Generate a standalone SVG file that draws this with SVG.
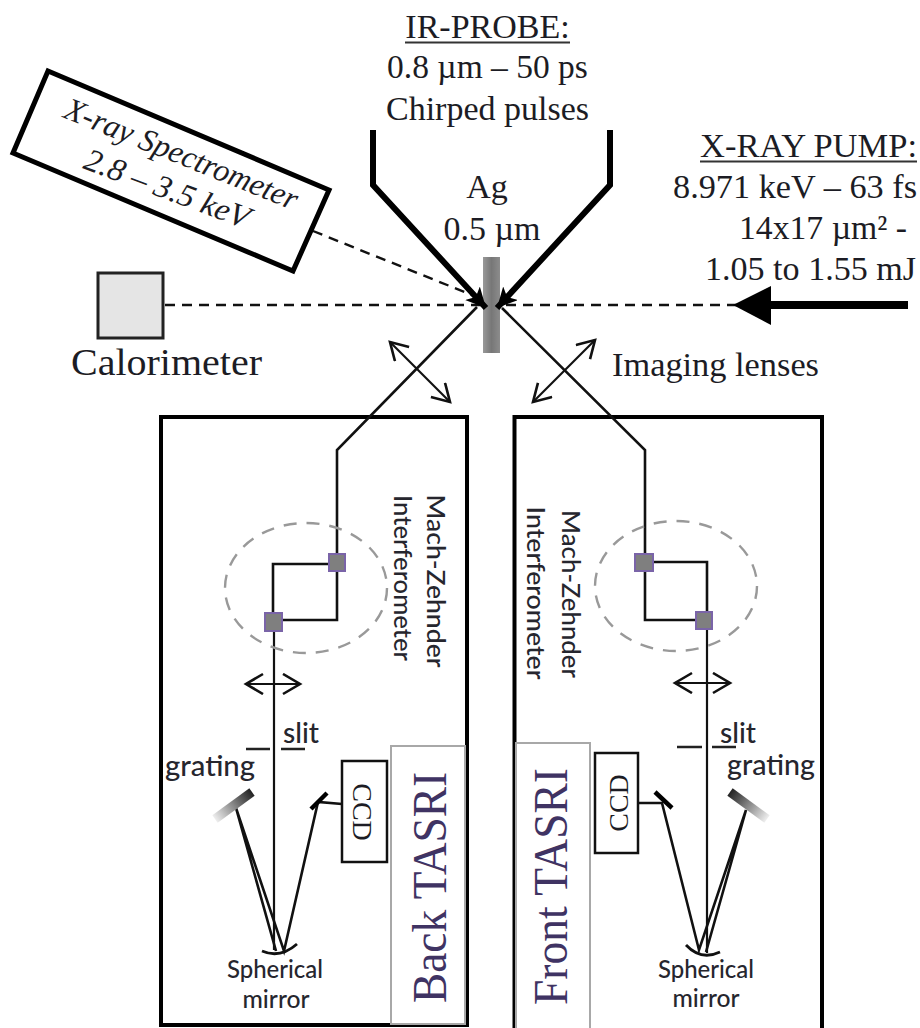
<svg xmlns="http://www.w3.org/2000/svg" width="920" height="1028" viewBox="0 0 920 1028">
<style>
.t{font-family:"Liberation Serif","Times New Roman",serif;fill:#1c1c24}
.s{font-family:Lato,"Open Sans",sans-serif;fill:#26262e;font-weight:500}
.m{text-anchor:middle}
.box{fill:none;stroke:#000;stroke-width:4}
.panel{fill:#fff;stroke:#a8a8a8;stroke-width:2}
.tasri{font-family:"Liberation Serif",serif;font-size:49px;fill:#3f3363}
.ln{fill:none;stroke:#111;stroke-width:2.6;stroke-linejoin:miter}
.thin{fill:none;stroke:#111;stroke-width:2.2}
.dash{fill:none;stroke:#111;stroke-width:2.4;stroke-dasharray:10 7}
.beam{fill:none;stroke:#000;stroke-width:6;stroke-linejoin:miter}
.ell{fill:none;stroke:#999;stroke-width:2.4;stroke-dasharray:13 10}
.bs{fill:#7f7f7f;stroke:#7a64a8;stroke-width:2}
.sl{fill:none;stroke:#222;stroke-width:2.5}
</style>
<defs>
<marker id="head" markerUnits="userSpaceOnUse" markerWidth="24" markerHeight="24" refX="20" refY="10" orient="auto"><path d="M0 0L20 10L0 20L5 10Z" fill="#000"/></marker>
<marker id="open" markerUnits="userSpaceOnUse" markerWidth="24" markerHeight="24" refX="18" refY="11" orient="auto-start-reverse"><path d="M1 1L18 11L1 21" fill="none" stroke="#111" stroke-width="2.6"/></marker>
<linearGradient id="gr1" gradientUnits="userSpaceOnUse" x1="252" y1="792" x2="215" y2="819"><stop offset="0" stop-color="#222"/><stop offset="1" stop-color="#eee"/></linearGradient>
<linearGradient id="gr2" gradientUnits="userSpaceOnUse" x1="730" y1="792" x2="767" y2="819"><stop offset="0" stop-color="#222"/><stop offset="1" stop-color="#eee"/></linearGradient>
<linearGradient id="ag" x1="0" x2="1" y1="0" y2="0"><stop offset="0" stop-color="#999"/><stop offset=".5" stop-color="#777"/><stop offset="1" stop-color="#8c8c8c"/></linearGradient>
</defs>

<g id="back-tasri">
<rect class="box" x="161" y="417" width="306" height="608"/>
<rect class="panel" x="391" y="746" width="74" height="278"/>
<text class="tasri" transform="translate(446,1003) rotate(-90)" textLength="231" lengthAdjust="spacingAndGlyphs">Back TASRI</text>
</g>
<g id="front-tasri">
<path class="box" d="M514.500 1030V417H822V1030"/>
<rect class="panel" x="516" y="743" width="74" height="287"/>
<text class="tasri" transform="translate(567,1005) rotate(-90)" textLength="237" lengthAdjust="spacingAndGlyphs">Front TASRI</text>
</g>
<g id="ag-target">
<rect x="483" y="257" width="17" height="96" fill="url(#ag)"/>
<text class="t m" x="487" y="198" font-size="34">Ag</text>
<text class="t m" x="492" y="240" font-size="34">0.5 µm</text>
</g>

<g id="connectors">
<path class="dash" d="M313 231L482 299"/>
<path class="dash" d="M165 305H482"/>
<path class="dash" d="M506 305H740"/>
<path class="beam" d="M373 130V185L486 308" marker-end="url(#head)"/>
<path class="beam" d="M610 130V185L497 308" marker-end="url(#head)"/>
<path class="ln" d="M477 307L337 450V620H273V564H337"/>
<path class="ln" d="M502 308L645 450V620H707V562H645"/>
<path class="thin" d="M274 622V950"/>
<path class="thin" d="M707 622V953"/>
<path class="thin" d="M390 342L450 402" marker-start="url(#open)" marker-end="url(#open)"/>
<path class="thin" d="M595 340L533 402" marker-start="url(#open)" marker-end="url(#open)"/>
<path class="thin" d="M246 684H300" marker-start="url(#open)" marker-end="url(#open)"/>
<path class="thin" d="M675 683H730" marker-start="url(#open)" marker-end="url(#open)"/>
<path class="ln" d="M236 808L276 951M236 808L284 951L318 802L342 804"/>
<path class="ln" d="M746 810L706 952M746 810L699 950L662 803L638 803"/>
</g>

<g id="spectrometer">
<path d="M48 71L329 190L293 271L13 153Z" fill="#fff" stroke="#000" stroke-width="5"/>
<text class="t" font-style="italic" font-size="32" transform="translate(62,117) rotate(22)" textLength="249" lengthAdjust="spacingAndGlyphs">X-ray Spectrometer</text>
<text class="t" font-style="italic" font-size="32" transform="translate(82,168) rotate(20.5)" textLength="174" lengthAdjust="spacingAndGlyphs">2.8 – 3.5 keV</text>
</g>
<g id="calorimeter">
<rect x="98" y="273" width="65" height="65" fill="#e5e5e5" stroke="#222" stroke-width="3"/>
<text class="t" x="71" y="375" font-size="38" textLength="191" lengthAdjust="spacingAndGlyphs">Calorimeter</text>
</g>
<g id="ir-probe">
<text class="t m" x="487.500" y="38" font-size="34">IR-PROBE:</text>
<path d="M405 42.500H570" stroke="#333" stroke-width="2"/>
<text class="t m" x="487.500" y="78" font-size="33.500">0.8 µm – 50 ps</text>
<text class="t m" x="487.500" y="120" font-size="34">Chirped pulses</text>
</g>
<g id="xray-pump">
<text class="t" x="700" y="157" font-size="33" textLength="217" lengthAdjust="spacingAndGlyphs">X-RAY PUMP:</text>
<path d="M700 161.500H917" stroke="#333" stroke-width="2"/>
<text class="t" x="673" y="198" font-size="33" textLength="244" lengthAdjust="spacingAndGlyphs">8.971 keV – 63 fs</text>
<text class="t" x="739" y="239" font-size="33" textLength="168" lengthAdjust="spacingAndGlyphs">14x17 µm² -</text>
<text class="t" x="705" y="280" font-size="33" textLength="211" lengthAdjust="spacingAndGlyphs">1.05 to 1.55 mJ</text>
<path d="M733 305L771 286V325Z" fill="#000"/>
<path d="M770 305H908" stroke="#000" stroke-width="8" fill="none"/>
</g>
<g id="imaging-lenses">
<text class="t" x="612" y="376" font-size="34" textLength="207" lengthAdjust="spacingAndGlyphs">Imaging lenses</text>
</g>

<g id="interferometer-back">
<ellipse class="ell" cx="306" cy="588" rx="81" ry="65"/>
<rect class="bs" x="329" y="554" width="16" height="17"/>
<rect class="bs" x="265" y="613" width="17" height="18"/>
<text class="s m" transform="translate(394,578) rotate(90)" font-size="24" textLength="166" lengthAdjust="spacingAndGlyphs">Interferometer</text>
<text class="s m" transform="translate(427,581) rotate(90)" font-size="24" textLength="173" lengthAdjust="spacingAndGlyphs">Mach-Zehnder</text>
</g>
<g id="interferometer-front">
<ellipse class="ell" cx="676" cy="586" rx="81" ry="65"/>
<rect class="bs" x="635" y="554" width="18" height="17"/>
<rect class="bs" x="696" y="612" width="16" height="17"/>
<text class="s m" transform="translate(527,593) rotate(90)" font-size="24" textLength="173" lengthAdjust="spacingAndGlyphs">Interferometer</text>
<text class="s m" transform="translate(562,594) rotate(90)" font-size="24" textLength="168" lengthAdjust="spacingAndGlyphs">Mach-Zehnder</text>
</g>

<g id="spectrograph-back">
<path class="sl" d="M246 749H270M281 749H305"/>
<text class="s" x="283" y="743" font-size="28" textLength="36" lengthAdjust="spacingAndGlyphs">slit</text>
<text class="s" x="165" y="776" font-size="29" textLength="90" lengthAdjust="spacingAndGlyphs">grating</text>
<path d="M252 792L215 819" stroke="url(#gr1)" stroke-width="9" fill="none"/>
<path d="M311 809L327 793" stroke="#000" stroke-width="4.500"/>
<rect x="342" y="761" width="45" height="101" fill="#fff" stroke="#111" stroke-width="2.500"/>
<text class="t m" transform="translate(353,812) rotate(90)" font-size="28">CCD</text>
<path d="M262 951Q280 959 297 944" fill="none" stroke="#111" stroke-width="2.800"/>
<text class="s m" x="275" y="978" font-size="24" textLength="96" lengthAdjust="spacingAndGlyphs">Spherical</text>
<text class="s m" x="276" y="1008" font-size="24" textLength="67" lengthAdjust="spacingAndGlyphs">mirror</text>
</g>
<g id="spectrograph-front">
<path class="sl" d="M677 747H702M712 747H736"/>
<text class="s" x="720" y="743" font-size="28" textLength="36" lengthAdjust="spacingAndGlyphs">slit</text>
<text class="s" x="727" y="775" font-size="29" textLength="88" lengthAdjust="spacingAndGlyphs">grating</text>
<path d="M730 792L767 819" stroke="url(#gr2)" stroke-width="9" fill="none"/>
<path d="M655 792L672 808" stroke="#000" stroke-width="4.500"/>
<rect x="595" y="753" width="43" height="100" fill="#fff" stroke="#111" stroke-width="2.500"/>
<text class="t m" transform="translate(628,803) rotate(-90)" font-size="28">CCD</text>
<path d="M686 945Q701 961 720 952" fill="none" stroke="#111" stroke-width="2.800"/>
<text class="s m" x="706" y="978" font-size="24" textLength="96" lengthAdjust="spacingAndGlyphs">Spherical</text>
<text class="s m" x="706" y="1007" font-size="24" textLength="67" lengthAdjust="spacingAndGlyphs">mirror</text>
</g>
</svg>
